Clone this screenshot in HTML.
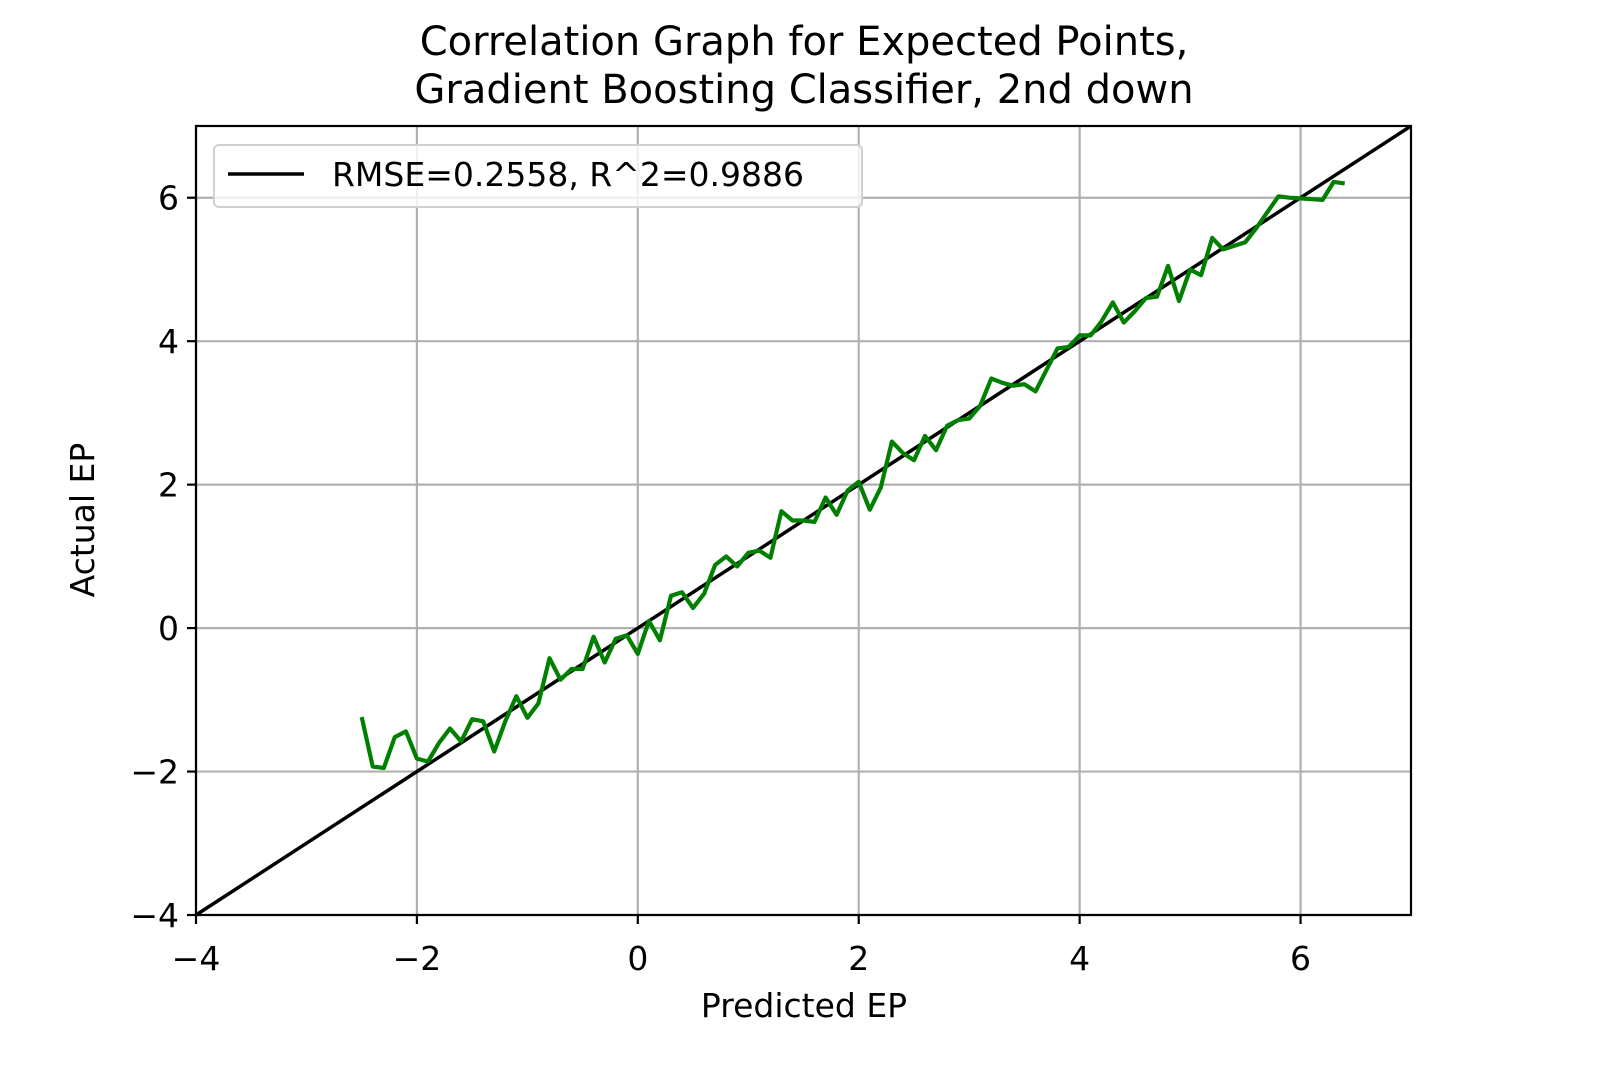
<!DOCTYPE html>
<html><head><meta charset="utf-8"><style>
body{margin:0;background:#fff;position:relative}
svg text{font-family:"DejaVu Sans","Liberation Sans",sans-serif;fill:#000}
</style></head><body>
<svg id="chart" width="1600" height="1067" xmlns="http://www.w3.org/2000/svg" style="position:absolute;left:0;top:0">
<rect width="1600" height="1067" fill="#fff"/>
<g id="grid"></g><g id="series"></g><g id="axes"></g>
</svg>
<script>
const xTicks=[-4,-2,0,2,4,6];
const yTicks=[-4,-2,0,2,4,6];
const refLine=[-4,7];
const predX=[-2.5,-2.4,-2.3,-2.2,-2.1,-2.0,-1.9,-1.8,-1.7,-1.6,-1.5,-1.4,-1.3,-1.2,-1.1,-1.0,-0.9,-0.8,-0.7,-0.6,-0.5,-0.4,-0.3,-0.2,-0.1,0.0,0.1,0.2,0.3,0.4,0.5,0.6,0.7,0.8,0.9,1.0,1.1,1.2,1.3,1.4,1.5,1.6,1.7,1.8,1.9,2.0,2.1,2.2,2.3,2.4,2.5,2.6,2.7,2.8,2.9,3.0,3.1,3.2,3.3,3.4,3.5,3.6,3.7,3.8,3.9,4.0,4.1,4.2,4.3,4.4,4.5,4.6,4.7,4.8,4.9,5.0,5.1,5.2,5.3,5.4,5.5,5.6,5.7,5.8,5.9,6.0,6.1,6.2,6.3,6.4];
const actualY=[-1.24,-1.93,-1.95,-1.52,-1.44,-1.82,-1.86,-1.6,-1.4,-1.58,-1.27,-1.3,-1.72,-1.3,-0.95,-1.25,-1.05,-0.42,-0.72,-0.57,-0.57,-0.12,-0.48,-0.15,-0.1,-0.36,0.1,-0.17,0.45,0.5,0.28,0.48,0.88,1.0,0.86,1.05,1.08,0.98,1.63,1.5,1.5,1.48,1.82,1.58,1.92,2.04,1.65,1.96,2.6,2.44,2.34,2.68,2.48,2.82,2.9,2.92,3.1,3.48,3.42,3.38,3.4,3.3,3.6,3.9,3.92,4.08,4.08,4.28,4.54,4.26,4.42,4.6,4.62,5.05,4.56,5.0,4.92,5.44,5.28,5.33,5.38,5.58,5.8,6.02,6.0,5.99,5.98,5.97,6.22,6.2];
const L=196,R=1411,T=126,B=915,xmin=-4,xmax=7,ymin=-4,ymax=7;
const sx=v=>L+(v-xmin)/(xmax-xmin)*(R-L);
const sy=v=>B-(v-ymin)/(ymax-ymin)*(B-T);
const NS="http://www.w3.org/2000/svg";
function mk(tag,attrs,parent,txt){const e=document.createElementNS(NS,tag);for(const k in attrs)e.setAttribute(k,attrs[k]);if(txt!==undefined)e.textContent=txt;parent.appendChild(e);return e;}
const grid=document.getElementById('grid'),series=document.getElementById('series'),axes=document.getElementById('axes');
xTicks.forEach(t=>{const l=mk('line',{x1:sx(t),x2:sx(t),y1:T,y2:B,stroke:'#b0b0b0','stroke-width':2.2},grid);

});
yTicks.forEach(t=>{const l=mk('line',{x1:L,x2:R,y1:sy(t),y2:sy(t),stroke:'#b0b0b0','stroke-width':2.2},grid);

});
const ref=mk('line',{x1:sx(refLine[0]),y1:sy(refLine[0]),x2:sx(refLine[1]),y2:sy(refLine[1]),stroke:'#000','stroke-width':3.5},series);


const pts=predX.map((x,i)=>sx(x).toFixed(1)+','+sy(actualY[i]).toFixed(1)).join(' ');
const gl=mk('polyline',{points:pts,fill:'none',stroke:'#008000','stroke-width':4.2,'stroke-linejoin':'round'},series);


const fr=mk('rect',{x:L,y:T,width:R-L,height:B-T,fill:'none',stroke:'#000','stroke-width':2.2},axes);


xTicks.forEach(t=>{mk('line',{x1:sx(t),x2:sx(t),y1:B,y2:B+9,stroke:'#000','stroke-width':2.2},axes);
const tx=mk('text',{x:sx(t),y:B+55,'font-size':33,'text-anchor':'middle'},axes,(t<0?'\u2212':'')+Math.abs(t));

});
yTicks.forEach(t=>{mk('line',{x1:L-9,x2:L,y1:sy(t),y2:sy(t),stroke:'#000','stroke-width':2.2},axes);
const tx=mk('text',{x:L-17,y:sy(t)+12,'font-size':33,'text-anchor':'end'},axes,(t<0?'\u2212':'')+Math.abs(t));

});
</script>
<svg width="1600" height="1067" style="position:absolute;left:0;top:0" xmlns="http://www.w3.org/2000/svg">
<text x="804" y="55" font-size="40" text-anchor="middle">Correlation Graph for Expected Points,</text>
<text x="804" y="103" font-size="40" text-anchor="middle">Gradient Boosting Classifier, 2nd down</text>
<text x="804" y="1017" font-size="33" text-anchor="middle">Predicted EP</text>
<text x="94" y="520" font-size="33" text-anchor="middle" transform="rotate(-90 94 520)">Actual EP</text>
<g>
<rect x="214" y="145" width="648" height="62" rx="5" fill="#fff" fill-opacity="0.8" stroke="#d0d0d0" stroke-width="2"/>
<line x1="228" y1="174" x2="304" y2="174" stroke="#000" stroke-width="3.5"/>
<text x="332" y="186" font-size="33">RMSE=0.2558, R^2=0.9886</text>
</g>
</svg>
</body></html>
